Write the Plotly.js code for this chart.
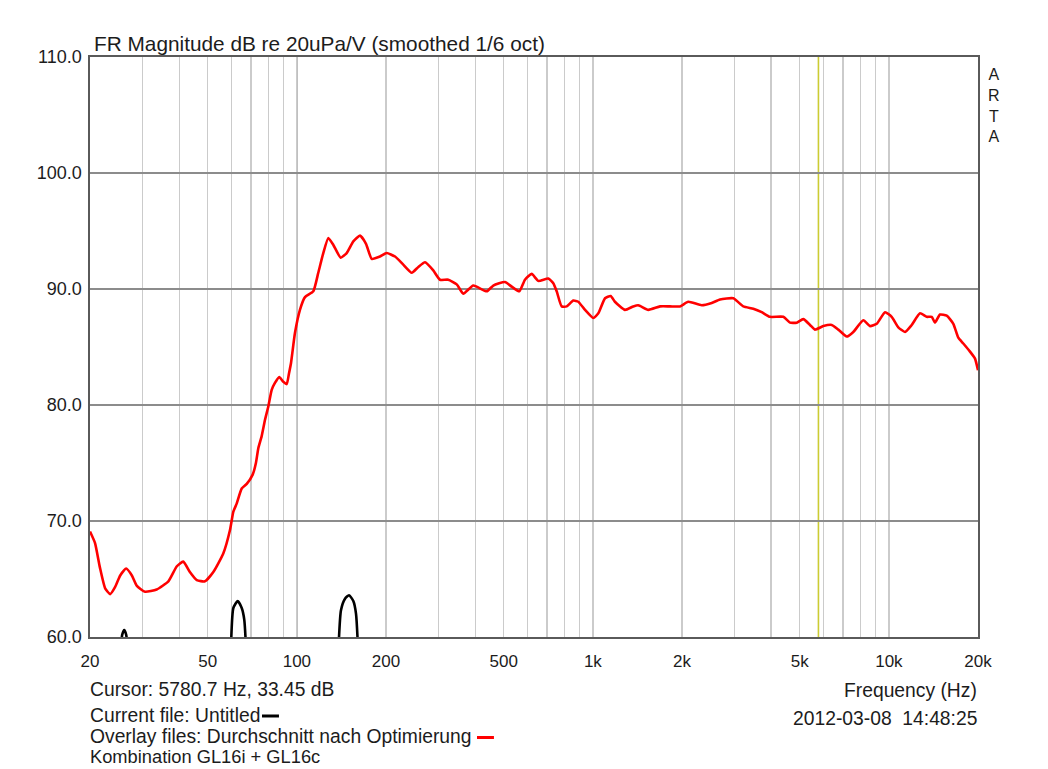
<!DOCTYPE html>
<html>
<head>
<meta charset="utf-8">
<script src="https://cdn.plot.ly/plotly-3.0.1.min.js"></script>
<style>
html,body{margin:0;padding:0;background:#fff;}
#chart{width:1048px;height:769px;}
</style>
</head>
<body>
<div id="chart"></div>
<script>
// Overlay (red): Durchschnitt nach Optimierung
const freqRed = [20, 20.8, 21.6, 22.5, 23.4, 24.3, 25.3, 26.5, 27.7, 28.8,
  30.7, 33.6, 36.8, 39.3, 41.3, 43.5, 45.9, 48.9, 52.2, 56.4,
  59.4, 61.0, 62.6, 65.1, 67.7, 70.9, 72.7, 74.1, 76.0, 78.0,
  80.1, 82.2, 84.3, 87.2, 90.0, 92.4, 94.0, 95.5, 98.5, 102.4,
  106.5, 113.6, 118.1, 122.8, 127.7, 132.8, 140.6, 147.3, 155.1, 163.4,
  171.2, 179.0, 190.9, 201.1, 214.5, 228.8, 244.3, 257.2, 270.9, 288.9,
  304.3, 324.6, 346.7, 364.9, 394.4, 437.8, 460.8, 504.7, 531.7, 564.1,
  589.6, 621.2, 653.9, 706.9, 734.9, 754.6, 784.5, 815.7, 858.6, 892.7,
  940.4, 1003, 1043, 1099, 1148, 1187, 1284, 1369, 1423, 1539,
  1686, 1822, 1969, 2100, 2331, 2520, 2688, 2982, 3222, 3482,
  3718, 3966, 4398, 4634, 4882, 5138, 5413, 5628, 6004, 6410,
  6748, 7203, 7582, 8198, 8636, 9098, 9706, 10220, 10760, 11336,
  11942, 12738, 13418, 13950, 14314, 14882, 15680, 16506, 17160, 17840,
  18794, 19538, 20000];
const dbRed = [69.1, 68.1, 66.0, 64.2, 63.7, 64.3, 65.3, 65.9, 65.3, 64.4,
  63.9, 64.1, 64.8, 66.1, 66.5, 65.6, 64.9, 64.8, 65.6, 67.2,
  69.2, 70.8, 71.5, 72.8, 73.2, 74.0, 75.0, 76.3, 77.3, 78.7,
  79.9, 81.3, 81.9, 82.4, 82.0, 81.8, 82.7, 83.6, 86.2, 88.2,
  89.3, 89.8, 91.4, 93.1, 94.4, 93.8, 92.7, 93.1, 94.1, 94.6,
  93.9, 92.6, 92.8, 93.1, 92.8, 92.1, 91.4, 91.9, 92.3, 91.6,
  90.8, 90.8, 90.4, 89.6, 90.3, 89.8, 90.3, 90.6, 90.2, 89.8,
  90.8, 91.3, 90.7, 90.9, 90.5, 89.8, 88.5, 88.5, 89.0, 88.9,
  88.2, 87.5, 87.9, 89.2, 89.4, 88.9, 88.2, 88.5, 88.6, 88.2,
  88.5, 88.5, 88.5, 88.9, 88.6, 88.8, 89.1, 89.2, 88.5, 88.3,
  88.0, 87.6, 87.6, 87.1, 87.1, 87.4, 86.9, 86.5, 86.8, 86.9,
  86.5, 85.9, 86.3, 87.3, 86.8, 87.0, 88.0, 87.6, 86.7, 86.3,
  86.9, 87.9, 87.6, 87.6, 87.1, 87.8, 87.7, 87.0, 85.8, 85.3,
  84.6, 84.0, 83.0];

// Current file (black): Untitled
const freqBlack = [20, 24.8, 25.3, 25.7, 26.1, 26.5, 26.9, 27.5,
  58.5, 59.7, 61.0, 63.1, 65.1, 66.4, 67.6, 69.0,
  135, 137.7, 140.9, 145.4, 150.0, 155.1, 158.4, 161.5, 165, 20000];
const dbBlack = [40, 50, 58, 60.2, 60.6, 60.2, 58, 50,
  50, 58, 62.5, 63.1, 62.5, 61.5, 58, 50,
  50, 58, 62.3, 63.3, 63.6, 63.1, 62.0, 58, 50, 40];

const cursorFreq = 5780.7;
const cursorDb = 33.45;

const gridFreqs = [20, 30, 40, 50, 60, 70, 80, 90, 100, 200, 300, 400, 500, 600, 700, 800, 900,
  1000, 2000, 3000, 4000, 5000, 6000, 7000, 8000, 9000, 10000, 20000];
const gridLabels = ['20', '', '', '50', '', '', '', '', '100', '200', '', '', '500', '', '', '', '',
  '1k', '2k', '', '', '5k', '', '', '', '', '10k', '20k'];
const decadeFreqs = [100, 1000, 10000];
const yTicks = [60, 70, 80, 90, 100, 110];

const FONT = 'Liberation Sans, Arial, sans-serif';
const TXT = '#1c1c1c';

const traces = [
  {x: freqBlack, y: dbBlack, type: 'scatter', mode: 'lines',
   line: {color: '#000000', width: 2.6, shape: 'spline', smoothing: 0.6}, hoverinfo: 'skip'},
  {x: freqRed, y: dbRed, type: 'scatter', mode: 'lines',
   line: {color: '#ff0000', width: 2.6, shape: 'spline', smoothing: 0.5}, hoverinfo: 'skip'}
];

const shapes = [];
decadeFreqs.forEach(f => shapes.push({type: 'line', xref: 'x', yref: 'paper', x0: f, x1: f, y0: 0, y1: 1,
  layer: 'between', line: {color: '#8c8c8c', width: 1.3}}));
shapes.push({type: 'line', xref: 'x', yref: 'paper', x0: cursorFreq, x1: cursorFreq, y0: 0, y1: 1,
  layer: 'between', line: {color: '#cccc33', width: 1.6}});
// legend dashes
shapes.push({type: 'line', xref: 'paper', yref: 'paper', x0: 0.1937, x1: 0.2128, y0: -0.1362, y1: -0.1362,
  line: {color: '#000000', width: 3}});
shapes.push({type: 'line', xref: 'paper', yref: 'paper', x0: 0.4358, x1: 0.4549, y0: -0.1733, y1: -0.1733,
  line: {color: '#ff0000', width: 3}});

function ann(text, x, y, xanchor, size, yanchor) {
  return {text: text, xref: 'paper', yref: 'paper', x: x, y: y, xanchor: xanchor, yanchor: yanchor || 'middle',
    showarrow: false, borderpad: 0, font: {family: FONT, size: size, color: TXT}, align: 'left'};
}

const annotations = [
  ann('FR Magnitude dB re 20uPa/V (smoothed 1/6 oct)', 0.0034, 1.0241, 'left', 20.8),
  ann('A<br>R<br>T<br>A', 1.018, 0.916, 'center', 16),
  ann('Cursor: ' + cursorFreq.toFixed(1) + ' Hz, ' + cursorDb.toFixed(2) + ' dB', -0.0011, -0.0897, 'left', 19.3),
  ann('Current file: Untitled', -0.0011, -0.1362, 'left', 19.3),
  ann('Overlay files: Durchschnitt nach Optimierung', -0.0011, -0.1724, 'left', 19.3),
  ann('Kombination GL16i + GL16c', -0.0011, -0.2259, 'left', 18.3, 'bottom'),
  ann('Frequency (Hz)', 1.0, -0.0914, 'right', 19.3),
  ann('2012-03-08\u00a0\u00a014:48:25', 1.0, -0.1397, 'right', 19.3)
];
annotations[1].align = 'center';

const layout = {
  width: 1048, height: 769,
  margin: {l: 90, r: 70, t: 57, b: 132, pad: 0},
  paper_bgcolor: '#ffffff', plot_bgcolor: '#ffffff',
  showlegend: false,
  xaxis: {
    type: 'log', range: [Math.log10(20), Math.log10(20000)],
    tickmode: 'array', tickvals: gridFreqs, ticktext: gridLabels,
    showgrid: true, gridcolor: '#cbcbcb', gridwidth: 1.2,
    zeroline: false, ticks: '', ticklabelstandoff: 8,
    showline: true, mirror: true, linecolor: '#5a5a5a', linewidth: 1.6,
    tickfont: {family: FONT, size: 17, color: TXT}
  },
  yaxis: {
    range: [60, 110], tickmode: 'array', tickvals: yTicks,
    ticktext: yTicks.map(v => v.toFixed(1)),
    showgrid: true, gridcolor: '#8c8c8c', gridwidth: 1.3,
    zeroline: false, ticks: '', ticklabelstandoff: 3,
    showline: true, mirror: true, linecolor: '#5a5a5a', linewidth: 1.6,
    tickfont: {family: FONT, size: 18, color: TXT}
  },
  shapes: shapes,
  annotations: annotations
};

Plotly.newPlot('chart', traces, layout, {staticPlot: true, displayModeBar: false});
</script>
</body>
</html>
